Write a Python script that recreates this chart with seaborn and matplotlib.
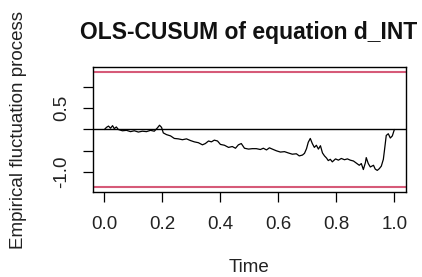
import numpy as np
import pandas as pd
import seaborn as sns
import matplotlib.pyplot as plt

# empirical fluctuation process
time = [0.0, 0.007, 0.014, 0.021, 0.028, 0.034, 0.041, 0.048, 0.062, 0.076,
        0.090, 0.103, 0.117, 0.131, 0.145, 0.159, 0.172, 0.183, 0.190, 0.197,
        0.203, 0.214, 0.228, 0.241, 0.255, 0.269, 0.283, 0.297, 0.310, 0.324,
        0.338, 0.348, 0.359, 0.369, 0.379, 0.390, 0.400, 0.414, 0.428, 0.441,
        0.452, 0.462, 0.472, 0.483, 0.497, 0.510, 0.524, 0.538, 0.548, 0.559,
        0.569, 0.579, 0.593, 0.607, 0.621, 0.634, 0.648, 0.662, 0.672, 0.683,
        0.690, 0.697, 0.703, 0.710, 0.717, 0.724, 0.731, 0.738, 0.745, 0.752,
        0.759, 0.766, 0.772, 0.779, 0.786, 0.797, 0.807, 0.817, 0.828, 0.838,
        0.848, 0.859, 0.869, 0.879, 0.886, 0.893, 0.900, 0.903, 0.910, 0.917,
        0.928, 0.934, 0.941, 0.948, 0.955, 0.962, 0.966, 0.972, 0.979, 0.986,
        0.993, 1.0]
process = [0.0, 0.05, 0.08, 0.03, 0.09, 0.02, 0.06, 0.0, -0.03, -0.02,
           -0.05, -0.03, -0.06, -0.04, -0.05, -0.02, -0.04, 0.04, 0.10, 0.05,
           -0.08, -0.12, -0.15, -0.21, -0.22, -0.24, -0.22, -0.26, -0.29, -0.31,
           -0.36, -0.33, -0.27, -0.29, -0.25, -0.27, -0.35, -0.37, -0.42, -0.40,
           -0.44, -0.36, -0.33, -0.44, -0.46, -0.45, -0.45, -0.47, -0.44, -0.48,
           -0.43, -0.46, -0.50, -0.53, -0.52, -0.55, -0.58, -0.57, -0.62, -0.60,
           -0.56, -0.45, -0.30, -0.21, -0.33, -0.42, -0.37, -0.46, -0.38, -0.55,
           -0.62, -0.67, -0.73, -0.70, -0.76, -0.69, -0.72, -0.68, -0.71, -0.69,
           -0.72, -0.74, -0.79, -0.84, -0.80, -0.94, -0.78, -0.66, -0.80, -0.88,
           -0.84, -0.93, -0.96, -0.92, -0.86, -0.70, -0.48, -0.14, -0.10, -0.20,
           -0.15, 0.0]
boundary = 1.358  # 5% critical value
yticks = [-1.0, -0.5, 0.0, 0.5, 1.0]
ytick_labels = ["-1.0", "", "", "0.5", ""]
xticks = [0.0, 0.2, 0.4, 0.6, 0.8, 1.0]

df = pd.DataFrame({"Time": time, "process": process})

sns.set_theme(style="white")
plt.rcParams["font.family"] = ["Liberation Sans", "DejaVu Sans"]

fig = plt.figure(figsize=(4.22, 2.77), dpi=100)
ax = fig.add_axes([0.220, 0.307, 0.742, 0.451])

sns.lineplot(data=df, x="Time", y="process", color="black", linewidth=0.9, ax=ax)
ax.axhline(0, color="black", linewidth=1.0)
ax.axhline(boundary, color="#d65a78", linewidth=1.5)
ax.axhline(-boundary, color="#d65a78", linewidth=1.5)

ax.set_xlim(-0.04, 1.04)
ax.set_ylim(-boundary * 1.08, boundary * 1.08)
ax.set_xticks(xticks)
ax.set_xticklabels([f"{t:.1f}" for t in xticks])
ax.set_yticks(yticks)
ax.set_yticklabels(ytick_labels, rotation=90, va="center")
ax.set_xlabel("")
ax.set_ylabel("")
ax.tick_params(axis="both", direction="out", length=7, width=0.9, color="black",
               labelsize=13.5, labelcolor="#222222", bottom=True, left=True)
ax.tick_params(axis="x", pad=10)
ax.tick_params(axis="y", pad=9)
for s in ax.spines.values():
    s.set_color("black")
    s.set_linewidth(1.0)

fig.text(0.589, 0.881, "OLS-CUSUM of equation d_INT", ha="center", va="center",
         fontsize=16.5, fontweight="bold", color="#111111")
fig.text(0.59, 0.036, "Time", ha="center", va="center", fontsize=13.5, color="#222222")
fig.text(0.045, 0.532, "Empirical fluctuation process", ha="center", va="center",
         rotation=90, fontsize=13.5, color="#222222")

fig.savefig("out.png", dpi=100)
